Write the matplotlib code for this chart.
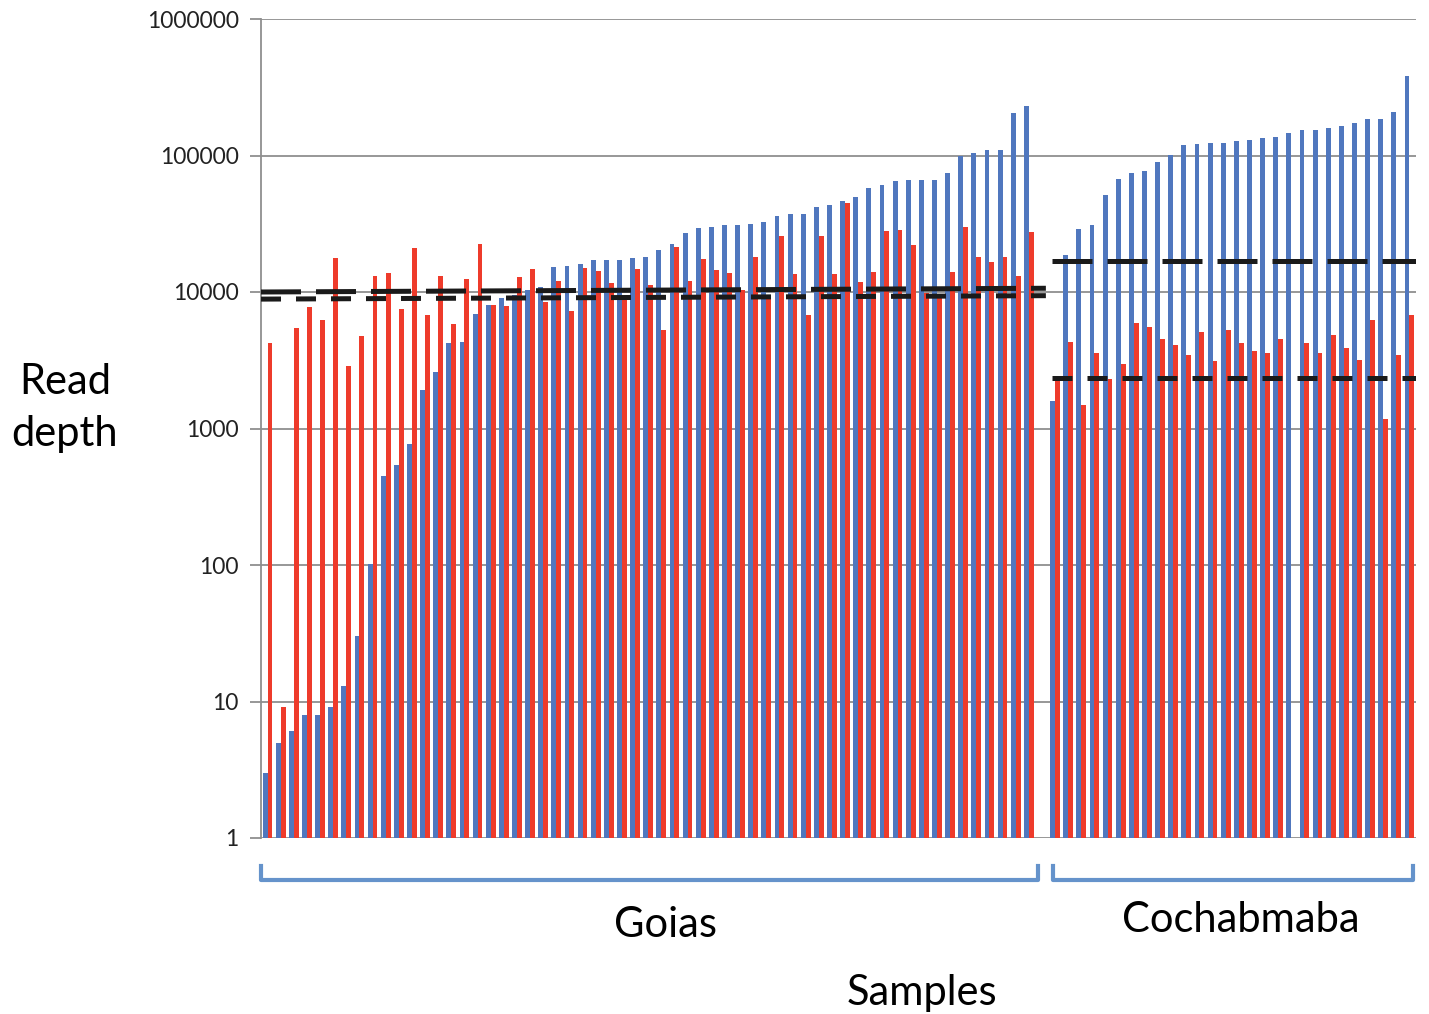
import numpy as np
import matplotlib.pyplot as plt
import matplotlib.transforms as mtransforms

# lecturas (read depth) por muestra, ordenadas como en la figura
goias_azul = [3.0, 5.0, 6.1, 8.0, 8.0, 9.1, 13, 30, 101, 450,
              540, 770, 1920, 2580, 4250, 4300, 6900, 8000, 9000, 9500,
              10300, 10900, 15200, 15500, 16100, 17100, 17300, 17300, 17700, 18000,
              20200, 22600, 27200, 29400, 29900, 31100, 31100, 31500, 32500, 36000,
              37000, 37400, 42300, 43100, 46100, 49300, 58000, 61300, 65300, 66000,
              66000, 66700, 74600, 99400, 104000, 109000, 109000, 206000, 231000]
goias_rojo = [4250, 9.1, 5450, 7700, 6220, 17600, 2890, 4800, 13000, 13700,
              7500, 21000, 6740, 13000, 5840, 12500, 22300, 8080, 7900, 12900,
              14700, 8500, 12000, 7230, 15100, 14200, 11700, 9000, 14700, 11200,
              5250, 21400, 12000, 17500, 14400, 13800, 10400, 18200, 9460, 25700,
              13500, 6740, 25700, 13500, 45100, 11800, 14000, 27900, 28400, 22200,
              9800, 9200, 14000, 30100, 18200, 16500, 18200, 13100, 27500]
cocha_azul = [1590, 18600, 29100, 31200, 51500, 67800, 74600, 77200, 89400, 100900,
              118800, 121900, 124000, 124000, 127300, 130700, 134000, 137600, 147400, 152600,
              154000, 158000, 163500, 172000, 186000, 186000, 208000, 381000]
cocha_rojo = [2230, 4330, 1490, 3550, 2290, 2990, 5920, 5520, 4490, 4110,
              3460, 5110, 3100, 5240, 4220, 3700, 3580, 4520, np.nan, 4220,
              3550, 4810, 3870, 3200, 6220, 1170, 3460, 6730]

# lineas de referencia (inicio, fin)
goias_sup = [10000, 10650]
goias_inf = [8870, 9400]
cocha_sup = [16900, 16900]
cocha_inf = [2340, 2340]

yticks = [1, 10, 100, 1000, 10000, 100000, 1000000]

azul = '#5077BE'
rojo = '#EE3B2B'
gris = '#8f8f8f'
corchete = '#6593CB'

fig = plt.figure(figsize=(14.29, 10.14), dpi=100)
ax = fig.add_axes([261 / 1429, 1 - 838 / 1014, (1416 - 261) / 1429, (838 - 19) / 1014])

n_g = len(goias_azul)
x_g = np.arange(n_g)
x_c = np.arange(len(cocha_azul)) + n_g + 1
w = 0.37
ax.bar(x_g - w / 2, goias_azul, width=w, color=azul, log=True, zorder=2)
ax.bar(x_g + w / 2, goias_rojo, width=w, color=rojo, log=True, zorder=2)
ax.bar(x_c - w / 2, cocha_azul, width=w, color=azul, log=True, zorder=2)
ax.bar(x_c + w / 2, cocha_rojo, width=w, color=rojo, log=True, zorder=2)

lw = 3.6
ax.plot([-0.5, n_g + 0.3], goias_sup, color='#1a1a1a', lw=lw, dashes=(8, 3), zorder=3)
ax.plot([-0.5, n_g + 0.3], goias_inf, color='#1a1a1a', lw=lw, dashes=(4, 3), zorder=3)
ax.plot([x_c[0] - 0.2, x_c[-1] + 0.5], cocha_sup, color='#1a1a1a', lw=lw, dashes=(8, 3), zorder=3)
ax.plot([x_c[0] - 0.2, x_c[-1] + 0.5], cocha_inf, color='#1a1a1a', lw=lw, dashes=(4, 3), zorder=3)

ax.set_xlim(-0.5, x_c[-1] + 0.5)
ax.set_ylim(1, 1000000)
ax.set_yticks(yticks)
ax.set_yticklabels([str(v) for v in yticks], fontsize=16.5, family='Lato', color='#222222')
ax.minorticks_off()
ax.yaxis.grid(True, color=gris, lw=1.3, zorder=0)
ax.set_xticks([])
ax.tick_params(axis='y', length=8, width=1.3, color=gris, pad=8)
for s in ['top', 'right', 'bottom']:
    ax.spines[s].set_visible(False)
ax.spines['left'].set_color(gris)
ax.spines['left'].set_linewidth(1.3)

# corchetes de grupos
tr = mtransforms.blended_transform_factory(ax.transData, fig.transFigure)
y_top, y_bot = 1 - 866 / 1014, 1 - 880 / 1014
for a, b in [(-0.5, n_g - 0.3), (x_c[0] - 0.15, x_c[-1] + 0.25)]:
    ax.plot([a, a, b, b], [y_top, y_bot, y_bot, y_top], transform=tr,
            color=corchete, lw=3, clip_on=False, solid_joinstyle='round')

fig.text(666 / 1429, 1 - 925 / 1014, 'Goias', fontsize=30, family='Lato', ha='center', va='center')
fig.text(1241 / 1429, 1 - 920 / 1014, 'Cochabmaba', fontsize=30, family='Lato', ha='center', va='center')
fig.text(922 / 1429, 1 - 993 / 1014, 'Samples', fontsize=30, family='Lato', ha='center', va='center')
fig.text(65 / 1429, 1 - 408 / 1014, 'Read\ndepth', fontsize=30, family='Lato', ha='center', va='center',
         linespacing=1.45)

fig.savefig('out.png', dpi=100)
